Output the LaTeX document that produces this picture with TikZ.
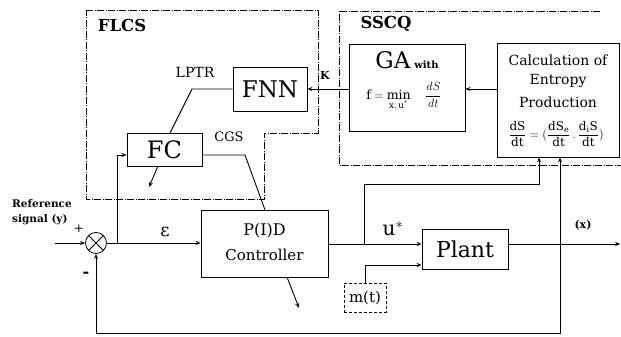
\documentclass[tikz,border=0pt]{standalone}
\usepackage{amsmath}
\usepackage{fontspec}
\setmainfont{DejaVu Serif}
\usetikzlibrary{arrows.meta,calc}
\newcommand{\fs}[1]{\fontsize{#1}{#1}\selectfont}
\begin{document}
\begin{tikzpicture}[x=1pt,y=-1pt,
  blk/.style={draw,line width=0.8pt,inner sep=0pt},
  conn/.style={line width=0.9pt},
  arr/.style={line width=0.9pt,-{Stealth[length=5pt,width=4pt]}},
  region/.style={line width=0.5pt,dash pattern=on 7pt off 1.5pt on 1pt off 1.5pt},
  lbl/.style={inner sep=0pt}]
\useasboundingbox (0,0) rectangle (621,337);
% regions
\draw[region] (86,10) -- (318,10) -- (318,133) -- (264,133) -- (264,199) -- (86,199) -- cycle;
\draw[region] (600,11) -- (339,11) -- (339,165) -- (621,165);
\node[lbl,font=\bfseries\fs{16.5}] (flcs) at (122,25) {FLCS};
\node[lbl,font=\bfseries\fs{16.5}] (sscq) at (386,24) {SSCQ};
% blocks
\node[blk,minimum width=74,minimum height=44,font=\fs{23}] (fnn) at (270,89) {FNN};
\node[blk,minimum width=75,minimum height=33,font=\fs{24}] (fc) at (164.5,149.5) {FC};
\node[blk,minimum width=127,minimum height=67] (pid) at (264.5,243.5) {};
\node[lbl,font=\fs{16}] (pidt1) at (264.5,231) {P(I)D};
\node[lbl,font=\fs{15}] (pidt2) at (264.5,255) {Controller};
\node[blk,minimum width=86,minimum height=40,font=\fs{22}] (plant) at (465,249) {Plant};
\node[draw,densely dashed,line width=0.5pt,inner sep=0pt,minimum width=42,minimum height=29,font=\fs{15}] (mt) at (365,297.5) {m(t)};
\node[blk,minimum width=116,minimum height=87] (ga) at (407,87.5) {};
\node[lbl] (gat) at (407,60) {\fs{23}GA\,\bfseries\fs{10}with};
\node[lbl,font=\fs{12.5}] (gaf) at (404,97) {$\mathrm{f}=\min\limits_{\mathrm{x,\,u^*}}\quad\dfrac{dS}{dt}$};
\node[blk,minimum width=122,minimum height=114] (calc) at (558,100) {};
\node[lbl,font=\fs{14}] (c1) at (558,60) {Calculation of};
\node[lbl,font=\fs{14}] (c2) at (558,81) {Entropy};
\node[lbl,font=\fs{14}] (c3) at (558,102) {Production};
\node[lbl,font=\fs{12}] (c4) at (556,134) {$\dfrac{\mathrm{dS}}{\mathrm{dt}}=(\dfrac{\mathrm{dS_e}}{\mathrm{dt}}\,.\,\dfrac{\mathrm{d_iS}}{\mathrm{dt}})$};
% summing junction
\node[draw,circle,line width=0.8pt,minimum size=21,inner sep=0pt] (sum) at (96,243) {};
\draw[line width=0.8pt] (sum.north west) -- (sum.south east) (sum.north east) -- (sum.south west);
% labels
\node[lbl,font=\bfseries\fs{10.5},align=left,anchor=west] (ref) at (12,212) {Reference\\[4pt]signal (y)};
\node[lbl,font=\fs{12}] (plus) at (79,229) {+};
\node[lbl,font=\bfseries\fs{16}] (minus) at (86,275) {-};
\node[lbl,font=\fs{18}] (eps) at (165,232) {ε};
\node[lbl,font=\fs{20}] (ustar) at (393,229) {u$^*$};
\node[lbl,font=\bfseries\fs{11}] (xl) at (583,225) {(x)};
\node[lbl,font=\fs{14}] (lptr) at (195,72) {LPTR};
\node[lbl,font=\fs{13}] (cgs) at (229,137) {CGS};
\node[lbl,font=\bfseries\fs{11}] (kl) at (325,75) {K};
% coordinates
\coordinate (in) at (55,243);
\coordinate (b1) at (117,243);
\coordinate (b2) at (364,244);
\coordinate (b3) at (539,184);
\coordinate (fb) at (560,244);
\coordinate (out) at (620,244);
% connectors
\draw[arr] (in) -- (sum.west);
\draw[arr] (sum.east) -- (pid.west |- sum);
\draw[arr] (b1) -- (117,155) -- (fc.west |- 0,155);
\draw[conn] (fnn.west) -- (192,89) -- (170,133);
\draw[conn] (fc.east |- 0,155) -- (245,155) -- (265,210);
\draw[arr] (158,166) -- (149,187);
\draw[arr] (287,277) -- (299,308);
\draw[arr] (pid.east |- b2) -- (plant.west |- b2);
\draw[arr] (b2) -- (364,184) -- (b3) -- (b3 |- calc.south);
\draw[arr] (mt.north) -- (365,265) -- (plant.west |- 0,265);
\draw[arr] (plant.east |- out) -- (out);
\draw[arr] (fb) -- (fb |- calc.south);
\draw[arr] (fb) -- (560,333) -- (96,333) -- (sum.south);
\draw[arr] (ga.west |- 0,89) -- (fnn.east |- 0,89);
\draw[arr] (calc.west |- 0,89) -- (ga.east |- 0,89);
\end{tikzpicture}
\end{document}
